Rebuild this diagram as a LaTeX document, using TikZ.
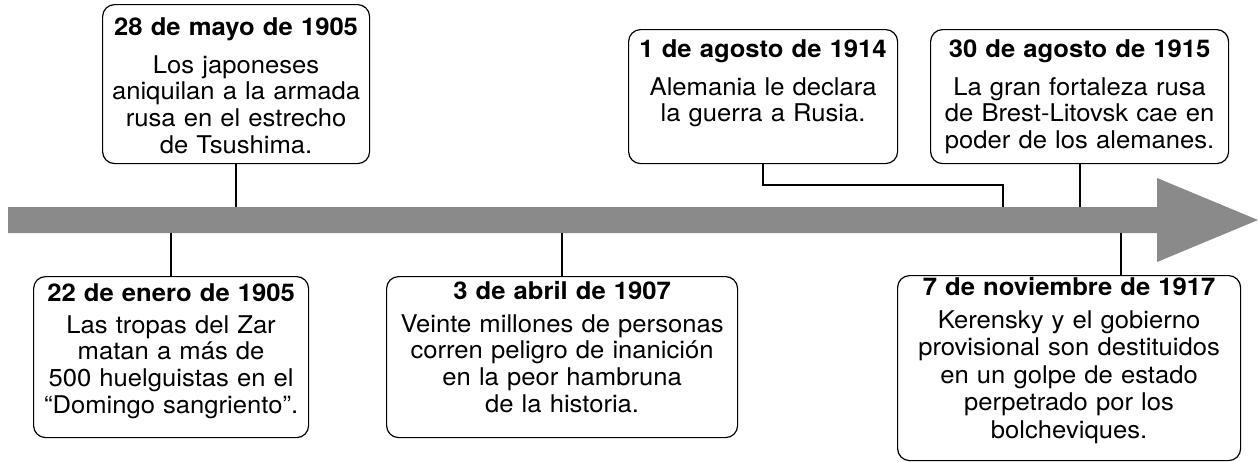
\documentclass[tikz,border=0pt]{standalone}
\usepackage{fontspec}
\setmainfont{TeX Gyre Heros}[FakeStretch=1.05]
\usepackage{tikz}
\definecolor{flecha}{RGB}{138,138,138}
\tikzstyle{linea}=[x=0.5pt, y=-0.5pt, font=\fontsize{12.2}{13.3}\selectfont]
\tikzstyle{evento}=[rectangle, draw, line width=0.6pt, rounded corners=6pt, anchor=north west, inner sep=0pt, align=center, fill=white]
\tikzstyle{conector}=[-, line width=1pt]
\tikzstyle{eje}=[fill=flecha, draw=none]
\newcommand{\ejeSup}{207}
\newcommand{\ejeInf}{233}
\newcommand{\puntaX}{1157}

\begin{document}
\begin{tikzpicture}[linea]
	\useasboundingbox (0,0) rectangle (1258,461);
	%The time axis
	\fill[eje] (8,\ejeSup) -- (\puntaX,\ejeSup) -- (\puntaX,178) -- (1258,220) -- (\puntaX,262) -- (\puntaX,\ejeInf) -- (8,\ejeInf) -- cycle;
	\coordinate (sup) at (0,\ejeSup);
	\coordinate (inf) at (0,\ejeInf);
	\coordinate (codo) at (1003,\ejeSup);

	%The events above the axis
	\draw (102,4) node[evento, text width=133.5pt, text height=15.5pt, text depth=64pt] (mayo1905) {\textbf{28 de mayo de 1905}\\[5.5pt] Los japoneses\\ aniquilan a la armada\\ rusa en el estrecho\\ de Tsushima.};
	\draw (628,29) node[evento, text width=134.5pt, text height=14pt, text depth=53pt] (agosto1914) {\textbf{1 de agosto de 1914}\\[5.5pt] Alemania le declara\\ la guerra a Rusia.};
	\draw (930,29) node[evento, text width=149pt, text height=14pt, text depth=53pt] (agosto1915) {\textbf{30 de agosto de 1915}\\[5.5pt] La gran fortaleza rusa\\ de Brest-Litovsk cae en\\ poder de los alemanes.};

	%The events below the axis
	\draw (33,276) node[evento, text width=137.5pt, text height=12.5pt, text depth=68pt] (enero1905) {\textbf{22 de enero de 1905}\\[2.5pt] Las tropas del Zar\\ matan a más de\\ 500 huelguistas en el\\ “Domingo sangriento”.};
	\draw (386,276) node[evento, text width=175.5pt, text height=11.5pt, text depth=69pt] (abril1907) {\textbf{3 de abril de 1907}\\[3pt] Veinte millones de personas\\ corren peligro de inanición\\ en la peor hambruna\\ de la historia.};
	\draw (897,275) node[evento, text width=171.5pt, text height=10pt, text depth=82.5pt, font=\fontsize{12.2}{13.75}\selectfont] (noviembre1917) {\textbf{7 de noviembre de 1917}\\[2.5pt] Kerensky y el gobierno\\ provisional son destituidos\\ en un golpe de estado\\ perpetrado por los\\ bolcheviques.};

	%The connectors
	\draw[conector] (mayo1905.south) -- (mayo1905.south |- sup);
	\draw[conector] (agosto1914.south) -- ++(0,21) -| (codo);
	\draw[conector] (agosto1915.south) -- (agosto1915.south |- sup);
	\draw[conector] (enero1905.north) -- (enero1905.north |- inf);
	\draw[conector] (abril1907.north) -- (abril1907.north |- inf);
	\draw[conector] ([xshift=25.75pt]noviembre1917.north) -- ([xshift=25.75pt]noviembre1917.north |- inf);
\end{tikzpicture}
\end{document}
